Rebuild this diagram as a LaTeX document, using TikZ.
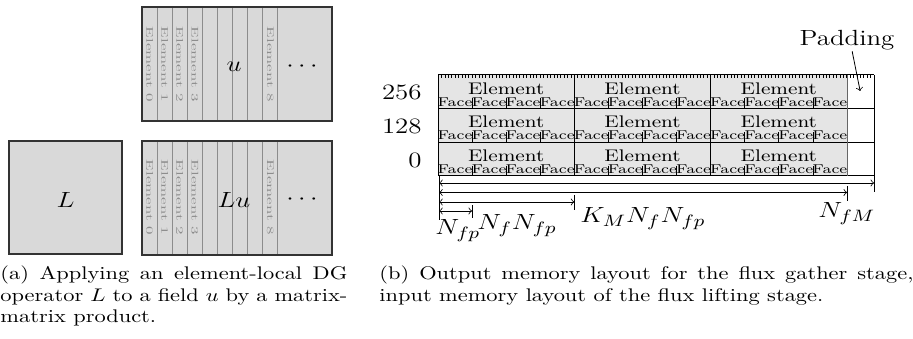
\documentclass[tikz,border=0pt]{standalone}
\usetikzlibrary{calc}
\begin{document}
\begin{tikzpicture}[x=0.4464pt,y=-0.5464pt,xscale=1.12,yscale=0.915,transform shape,
  matfill/.style={fill=black!15},
  matedge/.style={draw=black!80,line width=1pt},
  colline/.style={draw=black!45,line width=0.5pt},
  elab/.style={text=black!45,rotate=-90,inner sep=0pt},
  big/.style={font=\fontsize{12}{14}\selectfont,inner sep=0pt},
  mathlab/.style={font=\fontsize{12.4}{14}\selectfont,inner sep=0pt,anchor=north west},
  eltext/.style={font=\fontsize{9.2}{10}\selectfont,inner sep=0pt},
  facetext/.style={font=\fontsize{7}{8}\selectfont,inner sep=0pt},
  gridline/.style={draw=black,line width=0.5pt},
  dimarrow/.style={<->,line width=0.4pt},
  captext/.style={anchor=base west,inner sep=0pt,font=\fontsize{10}{11.5}\selectfont}]
\useasboundingbox (0,0) rectangle (913,339);
% ---------- (a) ----------
\fill[matfill] (9,141) rectangle (122,254);
\draw[matedge] (9,141) rectangle (122,254);
\node[big] (L) at (65.5,199.5) {$L$};
\foreach \top/\nm/\cy in {7/u/64.5,141/Lu/197.5}{
  \fill[matfill] (142,\top) rectangle (332,\top+114);
  \foreach \i in {1,...,9}
    \draw[colline] ({142+15.11*\i},\top) -- ({142+15.11*\i},\top+114);
  \draw[matedge] (142,\top) rectangle (332,\top+114);
  \foreach \i in {0,1,2,3,8}
    \node[elab] (\nm e\i) at ({142+15.11*(\i+0.5)},\cy) {\resizebox{41pt}{3pt}{Element \i}};
  \node[big] (\nm dots) at (302,\cy+2.5) {$\cdots$};
}
\node[big] (u) at (234,66.5) {$u$};
\node[big] (Lu) at (234,199.5) {$Lu$};
% ---------- (b) ----------
\fill[black!10] (438,75) rectangle (847,176);
\foreach \k in {1,...,127}
  \draw[line width=0.3pt] ({438+3.406*\k},75) -- ({438+3.406*\k},78);
\foreach \r/\rt in {0/75,1/108.7,2/142.3}{
  \foreach \e in {0,1,2}{
    \node[eltext] (el\r\e) at ({438+136.33*\e+68.17},\rt+13.5) {Element};
    \foreach \f in {0,1,2,3}
      \node[facetext] (fa\r\e\f) at ({438+136.33*\e+34.08*(\f+0.5)},\rt+27) {Face};
    \foreach \f in {1,2,3}
      \draw[line width=0.4pt] ({438+136.33*\e+34.08*\f},\rt+23.5) -- ({438+136.33*\e+34.08*\f},\rt+33.7);
  }
}
\foreach \y in {75,108.7,142.3,176}
  \draw[gridline] (438,\y) -- (874,\y);
\foreach \x in {438,574.3,710.7,874}
  \draw[gridline] (\x,75) -- (\x,176);
\draw[draw=black!60,line width=0.5pt] (847,75) -- (847,176);
\node[big,anchor=east] (r256) at (422,92) {256};
\node[big,anchor=east] (r128) at (422,126.5) {128};
\node[big,anchor=east] (r0) at (422,160) {0};
\node[big] (pad) at (847,40) {Padding};
\coordinate (padtip) at (860,91);
\draw[->,line width=0.4pt] ($(pad.south)+(5,1)$) -- (padtip);
% dimension arrows
\coordinate (v0) at (439,176);
\coordinate (v1) at (439,220);
\draw[line width=0.4pt] (v0) -- (v1);
\foreach \n/\y/\x/\ta/\tb in {1/183/874/176/192,2/192.5/847/186/201,3/202/574.3/195/210,4/211/472/205/218}{
  \coordinate (s\n) at (439,\y);
  \coordinate (e\n) at (\x,\y);
  \coordinate (t\n a) at (\x,\ta);
  \coordinate (t\n b) at (\x,\tb);
  \draw[dimarrow] (s\n) -- (e\n);
  \draw[line width=0.4pt] (t\n a) -- (t\n b);
}
\node[mathlab] (lfp) at (435,219) {$N_{fp}$};
\node[mathlab] (lffp) at (477,214) {$N_fN_{fp}$};
\node[mathlab] (lk) at (580,207) {$K_MN_fN_{fp}$};
\node[mathlab] (lfm) at (818,202) {$N_{fM}$};
% captions
\node[captext] (capa) at (0,280) {\parbox[t]{154.9pt}{(a) Applying an element-local DG\linebreak operator $L$ to a field $u$ by a matrix-\linebreak matrix product.}};
\node[captext] (capb) at (379,280) {\parbox[t]{238.4pt}{(b) Output memory layout for the flux gather stage,\linebreak input memory layout of the flux lifting stage.}};
\end{tikzpicture}
\end{document}
